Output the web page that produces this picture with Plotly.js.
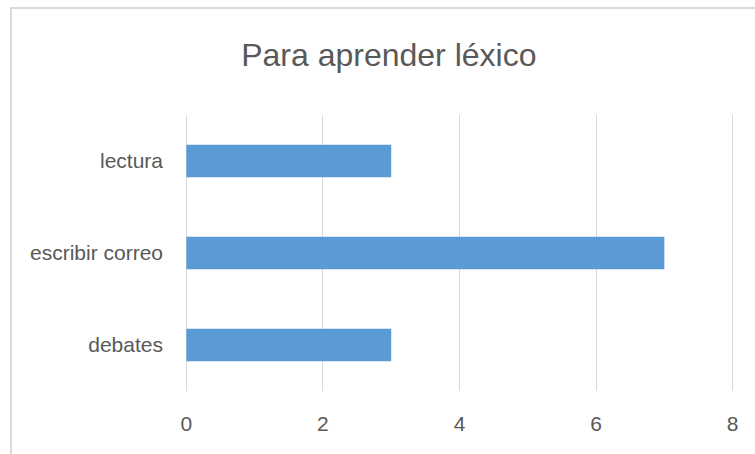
<!DOCTYPE html>
<html>
<head>
<meta charset="utf-8">
<script src="https://cdn.plot.ly/plotly-3.0.1.min.js"></script>
<style>
  html, body { margin: 0; padding: 0; background: #ffffff; }
  #wrap { position: relative; width: 755px; height: 454px; overflow: hidden; }
  #chart { position: absolute; left: 0; top: 0; width: 755px; height: 454px; }
  #frame { position: absolute; left: 10px; top: 7px; width: 800px; height: 500px;
           border-left: 2px solid #d9d9d9; border-top: 2px solid #d9d9d9; pointer-events: none; }
</style>
</head>
<body>
<div id="wrap">
  <div id="chart"></div>
  <div id="frame"></div>
</div>
<script>
const categories = ['debates', 'escribir correo', 'lectura'];
const values = [3, 7, 3];
const xTicks = [0, 2, 4, 6, 8];
const chartTitle = 'Para aprender léxico';

const fontFamily = '"Liberation Sans", Arial, sans-serif';

const data = [{
  type: 'bar',
  orientation: 'h',
  y: categories,
  x: values,
  marker: { color: '#5b9bd5' },
  hoverinfo: 'skip'
}];

const layout = {
  width: 755,
  height: 454,
  margin: { l: 185, r: 21, t: 115, b: 63 },
  paper_bgcolor: 'rgba(0,0,0,0)',
  plot_bgcolor: 'rgba(0,0,0,0)',
  showlegend: false,
  bargap: 0.645,
  title: {
    text: chartTitle,
    font: { family: fontFamily, size: 32, color: '#595959' },
    xref: 'container',
    x: 0.515,
    xanchor: 'center',
    yref: 'container',
    y: 1 - 55 / 454,
    yanchor: 'middle'
  },
  xaxis: {
    range: [-0.02, 8.02],
    tickvals: xTicks,
    ticktext: xTicks.map(String),
    showgrid: true,
    gridcolor: '#d9d9d9',
    gridwidth: 1,
    zeroline: false,
    showline: false,
    ticks: '',
    ticklabelstandoff: 18,
    tickfont: { family: fontFamily, size: 21, color: '#595959' },
    fixedrange: true
  },
  yaxis: {
    type: 'category',
    categoryorder: 'array',
    categoryarray: categories,
    range: [-0.5, 2.5],
    showgrid: false,
    zeroline: false,
    showline: false,
    ticks: '',
    ticklabelstandoff: 21,
    tickfont: { family: fontFamily, size: 21, color: '#595959' },
    fixedrange: true
  }
};

Plotly.newPlot('chart', data, layout, { displayModeBar: false, staticPlot: true });
</script>
</body>
</html>
